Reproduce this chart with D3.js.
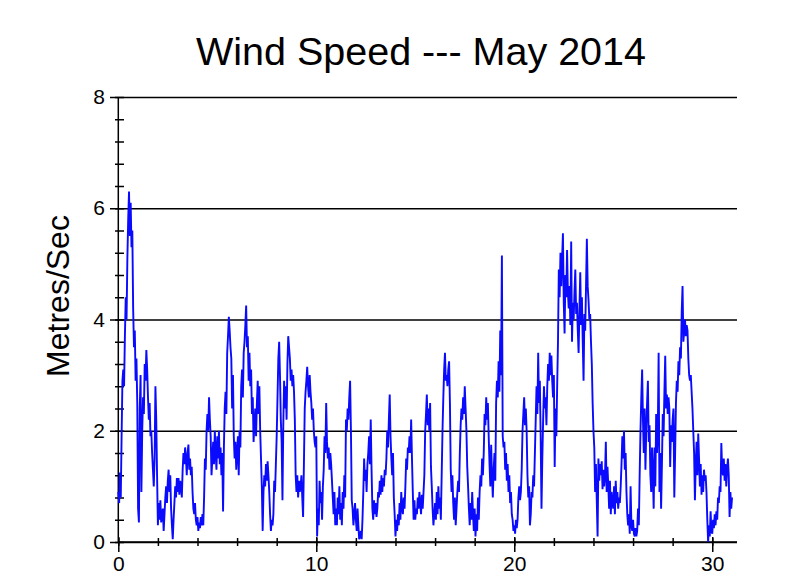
<!DOCTYPE html>
<html><head><meta charset="utf-8">
<script src="https://cdn.jsdelivr.net/npm/d3@7"></script>
<style>html,body{margin:0;padding:0;background:#fff;} svg{display:block;font-family:Arial,"Liberation Sans",sans-serif;}</style>
</head><body><svg id="c" width="800" height="583"></svg>
<script>
const title = "Wind Speed --- May 2014";
const yLabel = "Metres/Sec";
const xLabel = "Day No.";
const yMajorTicks = [0, 2, 4, 6, 8];
const xMajorTicks = [0, 10, 20, 30];
const yMinorStep = 0.4;
const xMinorStep = 2;
const stepsPerDay = 24; // hourly readings
const windSpeed = [
  // day 0
  0.9,0.7,1.25,0.8,1.9,2.9,3.1,2.8,3.7,4.4,4.0,5.1,5.8,6.3,5.5,6.1,5.3,5.6,4.2,3.5,3.8,2.9,3.3,2.5,
  // day 1
  0.6,0.35,2.4,3.0,0.9,2.0,2.6,2.3,3.2,2.9,3.45,3.1,2.6,2.2,2.5,1.9,2.0,1.6,1.3,1.0,1.5,2.8,2.2,1.2,
  // day 2
  0.3,0.7,0.4,0.75,0.35,0.5,0.6,0.2,0.5,0.8,1.0,0.7,1.1,1.3,0.9,1.2,0.6,0.3,0.05,0.4,0.7,1.0,0.8,1.15,
  // day 3
  0.9,1.15,0.85,1.1,1.0,0.8,1.3,1.6,1.4,1.7,1.5,1.2,1.6,1.75,1.3,1.5,1.2,1.35,0.9,0.6,0.5,0.7,0.4,0.3,
  // day 4
  0.45,0.2,0.35,0.25,0.45,0.3,0.5,0.3,0.8,1.5,1.3,2.0,2.3,2.0,2.6,2.2,1.9,1.2,1.5,1.8,1.4,2.0,1.6,1.3,
  // day 5
  1.9,1.5,2.0,1.4,1.7,1.2,1.6,0.55,1.7,2.4,2.7,2.3,3.4,3.7,4.05,3.8,3.5,3.3,2.4,3.0,1.9,1.5,1.8,1.3,
  // day 6
  1.6,1.9,1.2,2.0,1.7,2.8,3.1,2.6,3.4,3.6,3.9,4.25,3.5,3.7,2.9,3.4,2.8,3.1,2.3,2.6,1.8,2.1,2.4,1.9,
  // day 7
  2.5,2.9,2.3,2.8,2.0,1.5,1.0,0.2,0.9,1.2,1.0,1.4,1.1,1.45,1.2,0.9,0.5,0.2,0.4,0.3,0.5,1.1,0.9,1.4,
  // day 8
  1.9,2.6,3.3,3.6,3.0,2.2,1.8,0.75,2.1,2.9,2.4,2.8,2.2,3.2,3.7,3.5,3.3,2.9,3.1,2.8,3.0,2.7,2.2,1.2,
  // day 9
  0.9,1.2,0.8,1.1,0.9,1.0,1.2,0.8,0.45,1.4,2.4,2.7,2.9,3.15,2.8,2.6,3.0,2.7,2.5,2.2,2.4,2.0,1.8,1.7,
  // day 10
  1.9,0.1,0.6,0.3,1.1,0.7,0.9,0.4,1.0,1.3,1.9,1.6,2.5,1.8,1.5,1.7,1.3,1.6,1.4,1.1,0.8,0.5,0.9,0.3,
  // day 11
  0.6,0.3,0.8,0.5,1.0,0.4,0.7,0.3,0.9,0.6,1.2,0.8,2.2,2.0,2.4,2.2,2.6,2.9,2.0,0.75,0.6,0.3,0.5,0.7,
  // day 12
  0.4,0.2,0.6,0.3,0.05,0.1,0.2,0.05,0.4,0.9,1.5,1.1,1.3,0.9,1.4,1.6,1.9,1.4,2.2,1.3,0.6,0.4,0.75,0.5,
  // day 13
  0.7,0.45,0.6,0.9,0.8,1.1,0.85,1.2,0.9,1.15,1.0,1.3,1.2,1.5,2.0,1.7,2.2,2.65,1.9,1.5,1.2,1.6,0.8,0.5,
  // day 14
  0.1,0.4,0.2,0.5,0.3,0.7,0.4,0.9,0.6,0.5,0.8,0.6,1.0,1.5,1.3,1.7,1.6,1.9,1.6,2.2,1.5,0.9,0.4,0.75,
  // day 15
  0.4,0.6,0.5,0.8,0.6,0.9,0.7,0.5,0.85,0.6,0.9,1.2,2.0,2.3,2.65,2.1,2.4,2.0,2.5,1.35,1.0,0.6,0.3,0.5,
  // day 16
  0.7,0.4,0.9,0.5,1.0,0.6,0.8,0.4,1.2,2.0,2.6,3.1,3.4,2.9,3.0,2.8,3.1,3.25,2.5,1.3,0.9,1.2,0.7,0.4,
  // day 17
  0.8,0.3,0.6,0.9,1.1,0.9,1.6,2.1,2.4,2.2,2.6,2.3,2.8,2.4,2.0,1.35,1.0,0.6,0.3,0.7,0.4,0.9,0.5,0.2,
  // day 18
  0.6,0.1,0.5,0.2,0.8,0.4,0.9,1.2,1.0,1.5,1.2,1.6,2.3,2.1,2.6,2.2,2.5,1.9,1.4,1.0,1.75,1.2,0.8,1.3,
  // day 19
  1.6,1.1,2.5,2.9,2.6,3.25,2.7,3.8,3.0,5.15,1.9,1.7,1.8,1.3,1.6,1.1,1.4,0.9,1.2,0.7,0.9,0.5,0.4,0.2,
  // day 20
  0.3,0.15,0.4,0.25,0.4,0.8,1.0,0.75,0.9,1.3,2.0,2.3,2.6,2.1,2.4,2.0,1.2,0.8,1.0,0.3,0.5,0.9,0.8,1.2,
  // day 21
  1.0,1.6,2.2,2.8,2.3,3.4,2.5,2.9,1.9,0.6,1.5,2.2,2.8,2.4,2.6,2.1,2.8,3.2,2.9,3.4,3.0,3.35,2.9,2.6,
  // day 22
  3.0,1.35,2.4,1.9,2.8,3.6,4.9,4.4,5.2,4.6,5.1,5.55,4.3,3.75,4.8,4.4,5.25,4.5,4.2,4.6,3.9,5.4,3.6,4.3,
  // day 23
  4.0,4.5,4.9,4.1,4.3,3.8,3.4,4.2,4.85,3.9,4.4,3.6,2.9,4.1,3.8,4.6,5.45,4.6,4.35,4.0,4.1,3.6,3.2,2.5,
  // day 24
  2.0,1.7,0.9,1.4,0.75,0.1,1.5,1.1,1.4,1.2,1.45,0.95,1.3,1.0,1.2,1.8,0.9,1.35,1.0,0.6,1.1,0.5,0.9,0.7,
  // day 25
  0.6,1.0,0.5,1.1,0.7,0.9,0.6,0.8,0.7,1.0,1.4,1.9,1.5,2.0,1.3,1.6,0.9,0.5,0.3,0.5,0.15,1.0,0.3,0.2,
  // day 26
  0.4,0.15,0.1,0.25,0.1,0.2,0.6,0.3,1.2,2.0,2.6,3.1,2.2,1.6,2.4,1.3,2.0,2.5,2.9,1.8,2.1,1.2,0.9,1.7,
  // day 27
  1.2,0.6,1.7,1.0,2.3,1.6,2.0,3.4,0.9,1.6,0.6,1.4,2.3,1.9,2.7,3.35,2.4,2.65,2.3,2.6,2.4,1.35,2.1,1.8,
  // day 28
  2.2,2.4,0.8,1.6,2.5,2.9,2.7,3.25,3.0,3.5,3.3,4.15,4.6,3.6,3.8,4.0,3.7,3.9,3.8,3.3,3.0,2.9,3.0,2.7,
  // day 29
  2.4,2.0,1.6,0.75,1.4,1.8,1.2,1.95,1.5,1.0,1.4,0.85,1.2,0.9,1.3,1.1,1.2,0.9,0.4,0.0,0.3,0.1,0.55,0.2,
  // day 30
  0.15,0.4,0.25,0.5,0.3,0.55,0.4,0.8,0.7,1.0,0.9,1.78,1.3,1.2,1.5,1.1,1.4,1.0,1.3,1.5,1.2,0.45,0.9,0.6,
  // day 31 start
  0.8
];

const svg = d3.select("#c");
const x = d3.scaleLinear().domain([0, 31.25]).range([118.3, 737]);
const y = d3.scaleLinear().domain([0, 8]).range([542, 97]);
const lw = 1.5;
const font = "Arial, 'Liberation Sans', sans-serif";

// Major y ticks + gridlines + labels
const yMajor = svg.append("g").attr("transform", "translate(110,0)")
  .call(d3.axisLeft(y).tickValues(yMajorTicks).tickSize(-(737 - 110)).tickPadding(5).tickFormat(d3.format("d")));
yMajor.select(".domain").remove();
yMajor.selectAll("line").attr("stroke", "#000").attr("stroke-width", lw);
yMajor.selectAll("text").attr("font-size", 21).attr("fill", "#000").attr("font-family", font);

// Minor y ticks
const yMinor = svg.append("g").attr("transform", "translate(115,0)")
  .call(d3.axisRight(y).tickValues(d3.range(0, 8.001, yMinorStep)).tickSize(9).tickFormat(""));
yMinor.select(".domain").remove();
yMinor.selectAll("line").attr("stroke", "#000").attr("stroke-width", lw);

// Minor x ticks
const xMinor = svg.append("g").attr("transform", "translate(0,538)")
  .call(d3.axisBottom(x).tickValues(d3.range(0, 31.001, xMinorStep)).tickSize(8).tickFormat(""));
xMinor.select(".domain").remove();
xMinor.selectAll("line").attr("stroke", "#000").attr("stroke-width", lw);

// Major x ticks + labels
const xMajor = svg.append("g").attr("transform", "translate(0,537)")
  .call(d3.axisBottom(x).tickValues(xMajorTicks).tickSize(15).tickPadding(4).tickFormat(d3.format("d")));
xMajor.select(".domain").remove();
xMajor.selectAll("line").attr("stroke", "#000").attr("stroke-width", lw);
xMajor.selectAll("text").attr("font-size", 21).attr("fill", "#000").attr("font-family", font);

// Axis lines
svg.append("line").attr("x1", x(0)).attr("x2", x(0)).attr("y1", y(8)).attr("y2", y(0) + 1)
  .attr("stroke", "#000").attr("stroke-width", lw);
svg.append("line").attr("x1", x(0)).attr("x2", 737).attr("y1", y(0)).attr("y2", y(0))
  .attr("stroke", "#000").attr("stroke-width", lw);

// Data line
const line = d3.line().x((d, i) => x(i / stepsPerDay)).y(d => y(d));
svg.append("path").datum(windSpeed).attr("d", line)
  .attr("fill", "none").attr("stroke", "#0a0aff").attr("stroke-width", 1.9).attr("stroke-linejoin", "miter");

// Title and labels
svg.append("text").attr("x", 421).attr("y", 65).attr("text-anchor", "middle")
  .attr("font-size", 39.5).attr("fill", "#000").text(title);
svg.append("text").attr("transform", "translate(69,296) rotate(-90)").attr("text-anchor", "middle")
  .attr("font-size", 32).attr("fill", "#000").text(yLabel);
svg.append("text").attr("x", 412).attr("y", 606).attr("text-anchor", "middle")
  .attr("font-size", 32).attr("fill", "#000").text(xLabel);
</script></body></html>
